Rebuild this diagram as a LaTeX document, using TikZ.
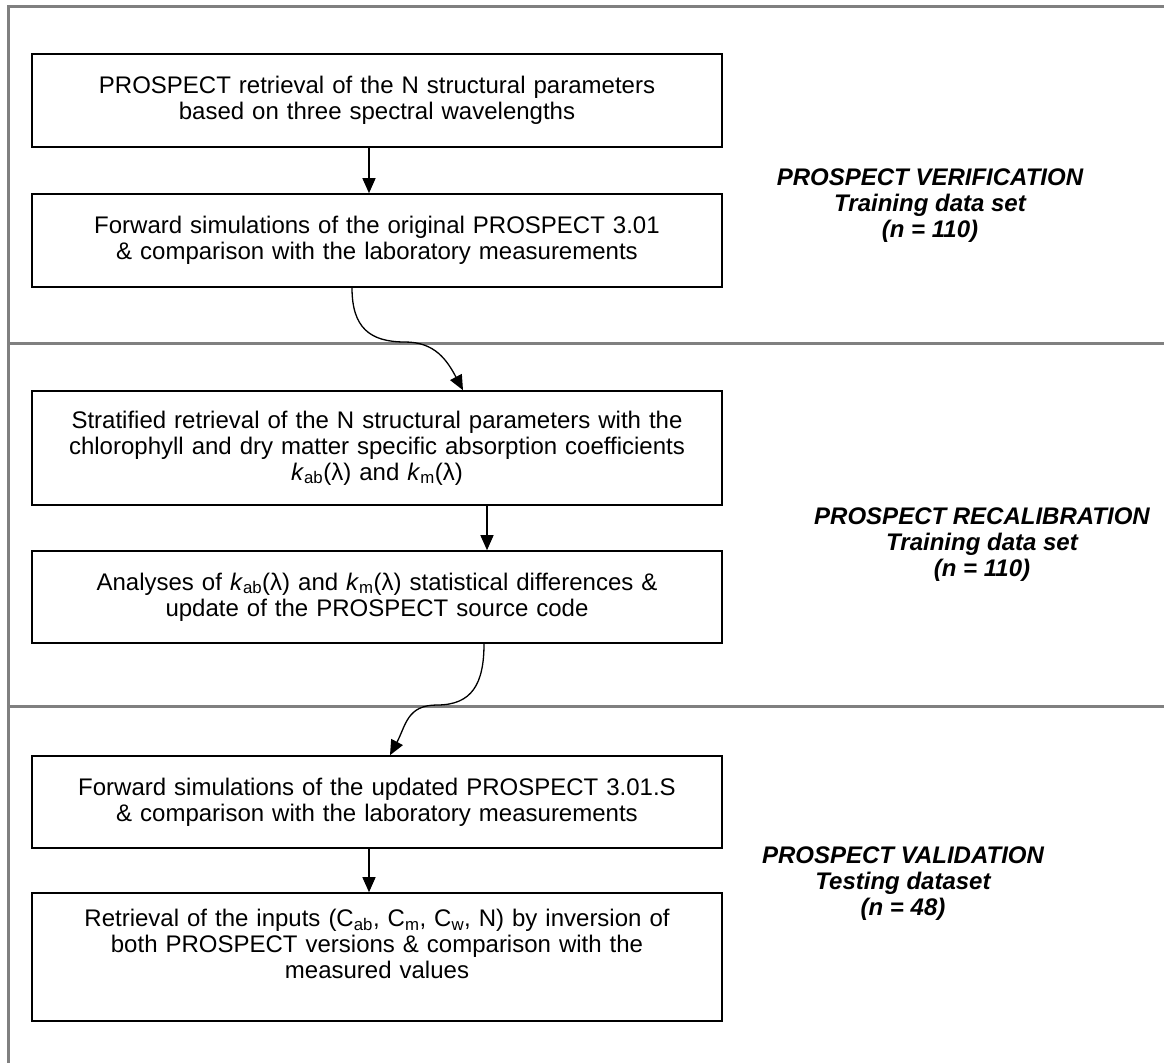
\documentclass[tikz,border=0pt]{standalone}
\usepackage{fontspec}
\setmainfont{Liberation Sans}
\usetikzlibrary{arrows.meta}
\definecolor{framegray}{RGB}{128,128,128}
\newcommand{\kk}[1]{\textit{k}\textsubscript{#1}}
\begin{document}
\begin{tikzpicture}[x=1pt,y=-1pt,
  frame/.style={draw=framegray, line width=3pt},
  stepbox/.style={draw=black, line width=1.6pt, minimum width=690pt, text width=676pt,
    align=center, inner sep=0pt, font=\fontsize{24}{26}\selectfont},
  phase/.style={align=center, font=\fontsize{24}{26}\selectfont\bfseries\itshape},
  link/.style={line width=1.3pt, -{Triangle[length=15pt,width=13pt]}}]
\useasboundingbox (0,0) rectangle (1164,1063);
% frame
\draw[frame] (1164,6) -- (8,6) -- (8,1063);
\draw[frame] (8,343) -- (1164,343);
\draw[frame] (8,706) -- (1164,706);
% boxes
\node[stepbox, minimum height=93pt] (b1) at (377,100.5)
  {PROSPECT retrieval of the N structural parameters\\based on three spectral wavelengths};
\node[stepbox, minimum height=93pt] (b2) at (377,240.5)
  {Forward simulations of the original PROSPECT 3.01\\\& comparison with the laboratory measurements};
\node[stepbox, minimum height=114pt] (b3) at (377,448)
  {Stratified retrieval of the N structural parameters with the\\chlorophyll and dry matter specific absorption coefficients\\\kk{ab}(λ) and \kk{m}(λ)};
\node[stepbox, minimum height=92pt] (b4) at (377,597)
  {Analyses of \kk{ab}(λ) and \kk{m}(λ) statistical differences \&\\update of the PROSPECT source code};
\node[stepbox, minimum height=92pt] (b5) at (377,802)
  {Forward simulations of the updated PROSPECT 3.01.S\\\& comparison with the laboratory measurements};
\node[stepbox, minimum height=128pt] (b6) at (377,957)
  {Retrieval of the inputs (C\textsubscript{ab}, C\textsubscript{m}, C\textsubscript{w}, N) by inversion of\\both PROSPECT versions \& comparison with the\\measured values\\\mbox{}};
% phase labels
\node[phase] (p1) at (930,206) {PROSPECT VERIFICATION\\Training data set\\(n = 110)};
\node[phase] (p2) at (982,545) {PROSPECT RECALIBRATION\\Training data set\\(n = 110)};
\node[phase] (p3) at (903,884) {PROSPECT VALIDATION\\Testing dataset\\(n = 48)};
% connectors
\coordinate (a1) at (369,0);
\coordinate (a2) at (487,0);
\coordinate (s1) at (352,0);
\coordinate (e1) at (463,0);
\coordinate (m1) at (405,342);
\coordinate (s2) at (484,0);
\coordinate (e2) at (390,0);
\coordinate (m2) at (437,705);
\draw[link] (a1 |- b1.south) -- (a1 |- b2.north);
\draw[link] (s1 |- b2.south) .. controls +(0,40) and +(-35,0) .. (m1)
  .. controls +(30,0) and +(-16,-30) .. (e1 |- b3.north);
\draw[link] (a2 |- b3.south) -- (a2 |- b4.north);
\draw[link] (s2 |- b4.south) .. controls +(0,40) and +(35,0) .. (m2)
  .. controls +(-30,0) and +(16,-30) .. (e2 |- b5.north);
\draw[link] (a1 |- b5.south) -- (a1 |- b6.north);
\end{tikzpicture}
\end{document}
